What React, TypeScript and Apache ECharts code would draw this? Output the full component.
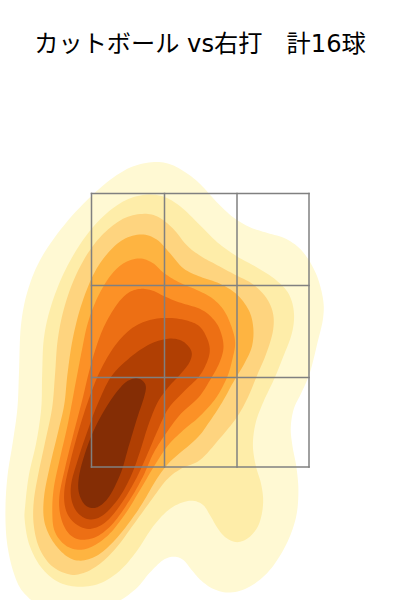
import React, { useEffect, useRef } from "react";
import * as echarts from "echarts";

const titleText = "カットボール vs右打\u3000計16球";

// Density contours, outermost to innermost, in chart units (x right, y down)
const level1 = [[153,161],[127,167],[100,187],[67,220],[40,257],[27,290],[20,323],[19,375],[18,408],[13,442],[7,475],[5,508],[6,542],[13,575],[25,595],[34,606],[118,606],[133,592],[150,572],[163,559],[173,556],[183,558],[193,572],[200,580],[213,590],[230,594],[250,588],[270,572],[287,545],[297,518],[299,492],[297,468],[292,445],[290,428],[293,408],[302,392],[310,375],[318,340],[324,317],[324,300],[317,273],[303,250],[287,238],[267,233],[250,228],[233,218],[217,203],[200,183],[187,173],[170,163]];
const level2 = [[143,194],[123,200],[100,218],[80,243],[63,273],[50,307],[43,337],[42,375],[42,408],[37,442],[28,475],[25,508],[24,518],[28,545],[40,568],[57,583],[77,588],[100,585],[120,572],[137,552],[153,525],[170,507],[190,499],[203,503],[210,515],[217,528],[225,538],[237,544],[250,538],[260,525],[264,503],[262,485],[255,465],[252,445],[255,422],[263,402],[275,378],[283,357],[293,333],[295,313],[290,293],[277,280],[257,267],[237,257],[217,243],[200,225],[180,205],[163,195]];
const level3 = [[143,213],[123,217],[103,233],[87,253],[73,280],[63,310],[57,340],[55,375],[53,408],[45,442],[38,475],[33,502],[33,525],[38,548],[50,567],[70,576],[83,574],[100,565],[117,548],[133,525],[150,502],[167,478],[180,468],[200,463],[220,438],[238,417],[248,398],[257,375],[267,353],[274,330],[274,313],[267,297],[253,283],[235,275],[217,265],[200,256],[187,247],[173,227],[157,215]];
const level4 = [[142,233],[123,238],[107,253],[93,273],[80,307],[72,340],[67,375],[65,405],[58,432],[50,465],[43,498],[43,522],[52,542],[67,558],[80,562],[97,557],[113,543],[130,522],[143,503],[157,478],[167,463],[200,437],[207,425],[223,402],[233,382],[245,363],[253,347],[254,327],[250,310],[237,293],[220,283],[200,277],[183,270],[170,253],[157,238]];
const level5 = [[140,257],[123,262],[110,275],[97,297],[87,323],[82,350],[77,375],[68,425],[60,458],[53,488],[52,512],[53,532],[65,547],[80,551],[93,547],[110,535],[127,512],[140,490],[153,468],[167,445],[183,430],[200,417],[217,398],[228,377],[233,357],[236,343],[233,330],[225,310],[213,298],[200,291],[177,282],[163,273],[153,262]];
const level6 = [[140,288],[128,292],[117,303],[103,327],[95,350],[88,375],[83,398],[73,435],[65,468],[58,498],[60,518],[68,535],[80,541],[97,538],[113,525],[130,500],[143,478],[153,452],[167,432],[180,413],[200,398],[210,380],[220,363],[225,347],[220,327],[210,315],[200,308],[180,303],[165,297],[153,290]];
const level7 = [[167,317],[147,320],[130,328],[113,347],[100,370],[90,395],[80,425],[70,462],[63,492],[65,512],[75,525],[90,531],[107,523],[123,502],[137,478],[147,455],[157,432],[167,408],[183,392],[200,377],[207,363],[211,350],[207,337],[200,325],[187,320]];
const level8 = [[180,339],[167,338],[150,343],[130,357],[110,375],[97,405],[87,432],[77,462],[70,485],[71,502],[78,515],[90,521],[103,517],[120,498],[132,475],[140,452],[148,425],[157,402],[167,388],[180,375],[190,363],[193,353],[188,345]];
const level9 = [[140,378],[147,385],[145,395],[137,418],[128,448],[122,472],[110,497],[100,507],[90,509],[82,503],[77,488],[80,468],[92,432],[107,405],[123,383],[133,378]];

const contours = [level1, level2, level3, level4, level5, level6, level7, level8, level9];
const levelColors = ["#FFF9D3", "#FEEDA9", "#FED47F", "#FEB441", "#FC9126", "#ED6F14", "#D35408", "#B03F03", "#842D05"];

// Strike-zone grid
const zoneXs = [91.5, 164.5, 237, 309];
const zoneYs = [193.5, 285.5, 377.5, 467];

// Drawing only: evens out tracing jitter, then rounds the closed outline (Catmull-Rom).
function roundOutline(raw: number[][]): number[][] {
  const n = raw.length;
  const pts = raw.map((p, i) => {
    const a = raw[(i - 1 + n) % n], b = raw[(i + 1) % n];
    return [0, 1].map((d) => 0.7 * p[d] + 0.15 * (a[d] + b[d]));
  });
  const out: number[][] = [];
  for (let i = 0; i < n; i++) {
    const p0 = pts[(i - 1 + n) % n], p1 = pts[i], p2 = pts[(i + 1) % n], p3 = pts[(i + 2) % n];
    for (let k = 0; k < 8; k++) {
      const t = k / 8, t2 = t * t, t3 = t2 * t;
      out.push([0, 1].map((d) =>
        0.5 * (2 * p1[d] + (p2[d] - p0[d]) * t + (2 * p0[d] - 5 * p1[d] + 4 * p2[d] - p3[d]) * t2 + (3 * p1[d] - p0[d] - 3 * p2[d] + p3[d]) * t3)
      ));
    }
  }
  return out;
}

export default function App() {
  const ref = useRef<HTMLDivElement>(null);
  useEffect(() => {
    document.body.style.margin = "0";
    const chart = echarts.init(ref.current!, null, { renderer: "svg" });
    const zoneSegments: number[][] = [
      ...zoneXs.map((x) => [x, zoneYs[0], x, zoneYs[3]]),
      ...zoneYs.map((y) => [zoneXs[0], y, zoneXs[3], y]),
    ];
    chart.setOption({
      animation: false,
      backgroundColor: "#fff",
      title: {
        text: titleText,
        left: "center",
        top: 27,
        textStyle: {
          fontFamily: "'DejaVu Sans', 'Noto Sans CJK JP'",
          fontSize: 24.2,
          fontWeight: "normal",
          color: "#000",
        },
      },
      grid: { left: 0, top: 0, width: 400, height: 600 },
      xAxis: { type: "value", min: 0, max: 400, show: false },
      yAxis: { type: "value", min: 0, max: 600, inverse: true, show: false },
      series: [
        {
          type: "custom",
          silent: true,
          clip: true,
          data: contours.map((_, i) => [i]),
          renderItem: (_p: any, api: any) => {
            const i = api.value(0);
            return {
              type: "polygon",
              shape: { points: roundOutline(contours[i].map((pt) => api.coord(pt))) },
              style: { fill: levelColors[i], stroke: "none" },
            };
          },
        },
        {
          type: "custom",
          silent: true,
          data: zoneSegments,
          renderItem: (_p: any, api: any) => {
            const a = api.coord([api.value(0), api.value(1)]);
            const b = api.coord([api.value(2), api.value(3)]);
            return {
              type: "line",
              shape: { x1: a[0], y1: a[1], x2: b[0], y2: b[1] },
              style: { stroke: "#808080", lineWidth: 1.5, lineCap: "square" },
            };
          },
        },
      ],
    });
    return () => chart.dispose();
  }, []);
  return <div ref={ref} style={{ width: 400, height: 600 }} />;
}
